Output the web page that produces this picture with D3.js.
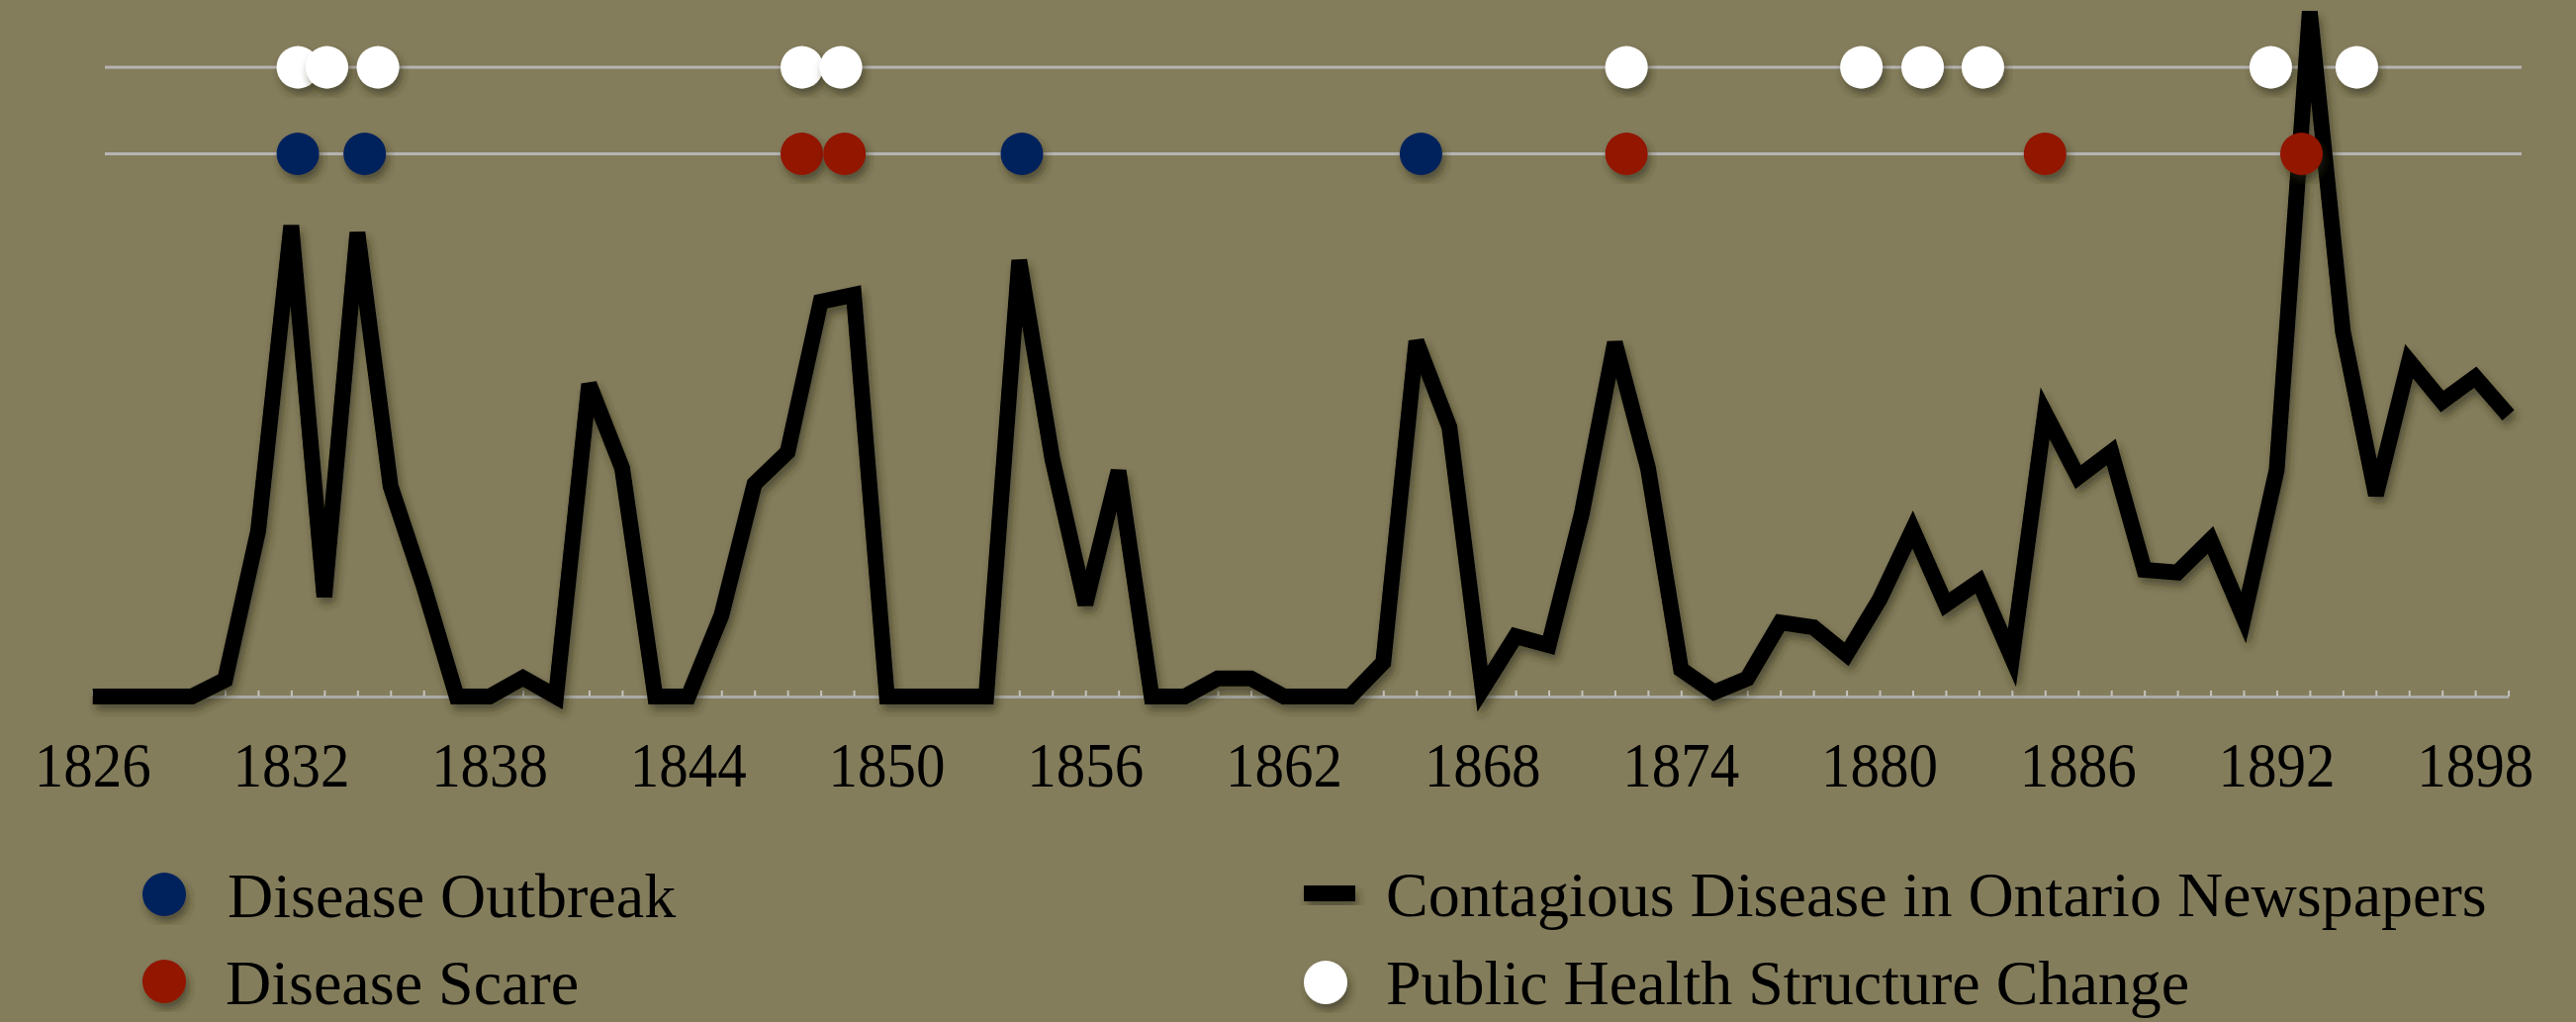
<!DOCTYPE html>
<html>
<head>
<meta charset="utf-8">
<script src="https://cdn.jsdelivr.net/npm/d3@7"></script>
<style>
  html, body { margin: 0; padding: 0; background: #847d5c; overflow: hidden; }
  svg { display: block; }
  text { font-family: "Liberation Serif", "Times New Roman", serif; fill: #000; }
</style>
</head>
<body>
<script>
// yearly index of contagious disease coverage
const years = d3.range(1826, 1900);
const mentions = [
  0, 0, 0, 0, 2.4, 23.9, 68, 14.4, 67, 30.4,
  16, 0, 0, 2.7, 0, 45.1, 33, 0, 0, 11.7,
  30.7, 35.3, 57, 58, 0, 0, 0, 0, 63, 34.3,
  13.3, 32.6, 0, 0, 2.6, 2.6, 0, 0, 0, 4.9,
  51.3, 38.9, 1.1, 8.7, 7.4, 26.4, 51.1, 33, 3.9, 0.6,
  2.6, 10.7, 10, 6.1, 14, 24.1, 13.3, 16.6, 5.6, 40.9,
  31.7, 35.3, 18.3, 17.9, 22.6, 11.4, 32.7, 98.9, 52.7, 29.1,
  48.4, 42.6, 46.1, 40.6
];
const tickYears = d3.range(1826, 1899, 6);

// event dots
const structureChanges = [1832.2, 1833.08, 1834.62, 1847.43, 1848.61, 1872.35, 1879.45, 1881.3, 1883.12, 1891.82, 1894.42];
const outbreaks = [1832.2, 1834.22, 1854.08, 1866.14];
const scares = [1847.43, 1848.72, 1872.35, 1885.0, 1892.75];

const width = 2604, height = 1033;

const svg = d3.select('body').append('svg')
  .attr('width', width)
  .attr('height', height);

const defs = svg.append('defs');
defs.append('filter')
  .attr('id', 'shadow')
  .attr('x', '-20%').attr('y', '-20%')
  .attr('width', '140%').attr('height', '140%')
  .append('feDropShadow')
  .attr('dx', 3).attr('dy', 6)
  .attr('stdDeviation', 4)
  .attr('flood-color', '#2a2614')
  .attr('flood-opacity', 0.55);

const x = d3.scaleLinear().domain([1826, 1899]).range([93.7, 2535.6]);
const y = d3.scaleLinear().domain([0, 100]).range([704, 4]);

// event row guide lines
const rows = [
  { key: 'structure', y: 68, data: structureChanges, color: '#ffffff' },
  { key: 'outbreak', y: 155.5, data: outbreaks, color: '#00205b' },
  { key: 'scare', y: 155.5, data: scares, color: '#921200' }
];
svg.selectAll('.rowline')
  .data([68, 155.5])
  .enter().append('line')
  .attr('class', 'rowline')
  .attr('x1', 106).attr('x2', 2549)
  .attr('y1', d => d).attr('y2', d => d)
  .attr('stroke', '#b6b4b2')
  .attr('stroke-width', 3);

// axis
const axis = d3.axisBottom(x)
  .tickValues(years)
  .tickSize(0)
  .tickFormat('');
const gx = svg.append('g')
  .attr('transform', 'translate(0,704)')
  .call(axis);
gx.select('.domain')
  .attr('stroke', '#aaa9a6')
  .attr('stroke-width', 3);
gx.selectAll('.tick line')
  .attr('y2', -6)
  .attr('stroke', '#c4c2bd')
  .attr('stroke-width', 2);

// labels are a touch taller than plain Times in the original
svg.append('g').selectAll('text')
  .data(tickYears)
  .enter().append('text')
  .attr('transform', d => 'translate(' + x(d) + ',795) scale(1,1.07)')
  .attr('text-anchor', 'middle')
  .style('font-size', '59px')
  .text(d => d);

// main series
const line = d3.line()
  .x((d, i) => x(years[i]))
  .y(d => y(d));

svg.append('path')
  .datum(mentions)
  .attr('d', line)
  .attr('fill', 'none')
  .attr('stroke', '#000')
  .attr('stroke-width', 16)
  .attr('stroke-linejoin', 'miter')
  .attr('filter', 'url(#shadow)');

rows.forEach(function(r) {
  svg.append('g').selectAll('circle')
    .data(r.data)
    .enter().append('circle')
    .attr('cx', d => x(d))
    .attr('cy', r.y)
    .attr('r', 21.5)
    .attr('fill', r.color)
    .attr('filter', 'url(#shadow)');
});

// legend
const legend = svg.append('g').style('font-size', '64px');

legend.append('circle').attr('cx', 166).attr('cy', 904).attr('r', 22)
  .attr('fill', '#00205b').attr('filter', 'url(#shadow)');
legend.append('text').attr('x', 230).attr('y', 927).text('Disease Outbreak');

legend.append('circle').attr('cx', 166).attr('cy', 992).attr('r', 22)
  .attr('fill', '#921200').attr('filter', 'url(#shadow)');
legend.append('text').attr('x', 228).attr('y', 1015).text('Disease Scare');

legend.append('rect').attr('x', 1318).attr('y', 895).attr('width', 52).attr('height', 16)
  .attr('fill', '#000').attr('filter', 'url(#shadow)');
legend.append('text').attr('x', 1401).attr('y', 926).text('Contagious Disease in Ontario Newspapers');

legend.append('circle').attr('cx', 1340).attr('cy', 993).attr('r', 22)
  .attr('fill', '#ffffff').attr('filter', 'url(#shadow)');
legend.append('text').attr('x', 1401).attr('y', 1015).text('Public Health Structure Change');
</script>
</body>
</html>
